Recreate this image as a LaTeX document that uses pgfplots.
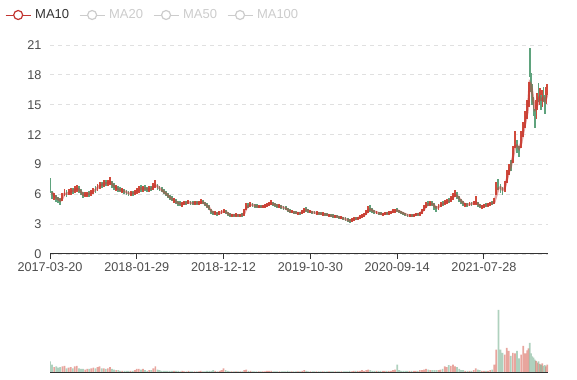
\documentclass[border=0pt]{standalone}
\usepackage{fontspec}
\setmainfont{Liberation Sans}
\usepackage{pgfplots}
\usepackage{pgfplotstable}
\pgfplotsset{compat=1.18}
\definecolor{upc}{HTML}{D14B3C}
\definecolor{downc}{HTML}{5FA37D}
\definecolor{mac}{HTML}{C23531}
\definecolor{inact}{HTML}{CCCCCC}
\definecolor{gridc}{HTML}{E0E0E0}
\definecolor{axc}{HTML}{333333}
\definecolor{lblc}{HTML}{4D4D4D}

\pgfplotstableread[row sep=\\]{
x mid hr dir vol ma\\
0 6.9 0.75 0 17 nan\\
5 5.9 0.4 0 12 6.2\\
10 5.75 0.35 1 8 5.85\\
15 5.6 0.35 0 9 5.65\\
20 5.45 0.3 0 7 5.5\\
25 5.3 0.35 0 8 5.35\\
30 5.7 0.4 1 9 5.6\\
35 6.2 0.35 1 10 6.05\\
40 6.05 0.35 0 6 6.05\\
45 6.2 0.3 1 7 6.15\\
50 6.3 0.35 1 8 6.25\\
55 6.35 0.3 0 6 6.35\\
60 6.45 0.35 1 9 6.45\\
65 6.55 0.35 1 10 6.55\\
70 6.5 0.35 0 6 6.5\\
75 6.2 0.3 0 5 6.25\\
80 5.9 0.3 0 5 5.95\\
85 5.95 0.25 1 4 5.95\\
90 6.0 0.25 1 5 6.0\\
95 6.05 0.3 0 5 6.05\\
100 6.15 0.3 1 6 6.15\\
105 6.35 0.3 1 7 6.3\\
110 6.45 0.35 0 6 6.45\\
115 6.7 0.35 1 8 6.65\\
120 6.9 0.35 1 9 6.85\\
125 6.95 0.3 0 6 6.95\\
130 7.05 0.35 1 6 7.05\\
135 7.1 0.3 0 5 7.1\\
140 7.15 0.3 1 6 7.15\\
145 7.35 0.4 1 8 7.25\\
150 7.0 0.35 0 5 7.05\\
155 6.75 0.35 0 4 6.8\\
160 6.6 0.3 1 3 6.65\\
165 6.5 0.3 0 3 6.5\\
170 6.45 0.25 0 2 6.45\\
175 6.4 0.25 1 2 6.4\\
180 6.3 0.25 0 2 6.3\\
185 6.2 0.25 0 2 6.2\\
190 6.1 0.25 0 2 6.1\\
195 6.05 0.25 1 2 6.05\\
200 6.1 0.25 0 2 6.1\\
205 6.15 0.25 1 3 6.15\\
210 6.3 0.3 1 5 6.3\\
215 6.5 0.35 1 5 6.45\\
220 6.6 0.35 0 4 6.6\\
225 6.55 0.3 1 5 6.55\\
230 6.6 0.3 0 3 6.6\\
235 6.5 0.25 0 2 6.5\\
240 6.5 0.3 1 3 6.5\\
245 6.55 0.25 0 3 6.55\\
250 6.8 0.35 1 6 6.75\\
255 7.0 0.4 1 9 6.9\\
260 6.75 0.3 0 4 6.8\\
265 6.6 0.25 0 3 6.6\\
270 6.45 0.25 0 2 6.45\\
275 6.25 0.25 0 2 6.25\\
280 6.1 0.25 0 2 6.1\\
285 5.9 0.25 0 2 5.9\\
290 5.7 0.25 0 2 5.7\\
295 5.55 0.25 0 2 5.55\\
300 5.4 0.25 1 2 5.4\\
305 5.25 0.25 0 2 5.25\\
310 5.1 0.25 0 2 5.1\\
315 5.05 0.25 0 1 5.05\\
320 5.0 0.25 1 2 5.0\\
325 5.1 0.2 1 1 5.1\\
330 5.15 0.2 0 1 5.15\\
335 5.2 0.2 1 2 5.2\\
340 5.15 0.2 0 1 5.15\\
345 5.1 0.2 0 1 5.1\\
350 5.1 0.2 1 1 5.1\\
355 5.15 0.2 0 1 5.15\\
360 5.1 0.2 1 1 5.1\\
365 5.25 0.25 1 2 5.2\\
370 5.2 0.2 0 1 5.2\\
375 5.05 0.2 0 1 5.05\\
380 4.85 0.25 0 2 4.85\\
385 4.65 0.25 0 2 4.65\\
390 4.3 0.25 0 2 4.35\\
395 4.1 0.2 0 3 4.15\\
400 4.1 0.2 1 2 4.1\\
405 4.05 0.2 0 1 4.05\\
410 4.1 0.2 1 2 4.1\\
415 4.2 0.2 1 3 4.2\\
420 4.3 0.2 1 6 4.28\\
425 4.25 0.2 0 3 4.25\\
430 4.05 0.2 0 2 4.08\\
435 3.95 0.2 0 1 3.95\\
440 3.9 0.16 1 1 3.9\\
445 3.9 0.16 0 1 3.9\\
450 3.92 0.16 1 1 3.92\\
455 3.88 0.16 0 1 3.88\\
460 3.9 0.16 1 1 3.9\\
465 3.92 0.16 0 1 3.92\\
470 4.2 0.35 1 3 4.1\\
475 4.8 0.35 1 4 4.6\\
480 4.85 0.25 0 2 4.8\\
485 5.0 0.25 1 2 4.95\\
490 4.95 0.2 0 1 4.95\\
495 4.85 0.2 0 1 4.85\\
500 4.8 0.2 0 1 4.8\\
505 4.75 0.16 1 1 4.75\\
510 4.75 0.16 0 1 4.75\\
515 4.78 0.16 1 1 4.78\\
520 4.8 0.2 1 1 4.8\\
525 4.9 0.2 1 2 4.9\\
530 5.05 0.2 1 2 5.0\\
535 5.15 0.25 1 2 5.1\\
540 5.0 0.2 0 1 5.02\\
545 4.95 0.2 0 1 4.95\\
550 4.85 0.2 0 1 4.85\\
555 4.8 0.2 1 1 4.8\\
560 4.75 0.2 0 1 4.75\\
565 4.65 0.2 0 1 4.65\\
570 4.6 0.2 0 1 4.6\\
575 4.45 0.2 0 2 4.45\\
580 4.3 0.2 0 1 4.3\\
585 4.25 0.16 1 1 4.25\\
590 4.2 0.16 0 1 4.2\\
595 4.15 0.16 0 1 4.15\\
600 4.1 0.16 1 1 4.1\\
605 4.1 0.16 0 1 4.1\\
610 4.2 0.2 1 2 4.18\\
615 4.4 0.25 1 3 4.35\\
620 4.5 0.25 0 2 4.45\\
625 4.3 0.2 0 1 4.32\\
630 4.25 0.16 1 1 4.25\\
635 4.2 0.16 0 1 4.2\\
640 4.15 0.16 0 1 4.15\\
645 4.12 0.16 1 1 4.12\\
650 4.1 0.16 0 1 4.1\\
655 4.05 0.16 0 1 4.05\\
660 4.02 0.16 1 1 4.02\\
665 4.0 0.16 0 1 4.0\\
670 3.95 0.16 0 1 3.95\\
675 3.9 0.16 1 1 3.9\\
680 3.85 0.16 0 1 3.85\\
685 3.82 0.16 0 1 3.82\\
690 3.8 0.16 1 1 3.8\\
695 3.75 0.16 0 1 3.75\\
700 3.7 0.16 0 1 3.7\\
705 3.65 0.16 1 1 3.65\\
710 3.58 0.16 0 1 3.58\\
715 3.5 0.2 0 1 3.5\\
720 3.4 0.2 0 1 3.42\\
725 3.3 0.2 0 2 3.35\\
730 3.45 0.2 1 1 3.4\\
735 3.5 0.2 1 2 3.48\\
740 3.55 0.16 0 2 3.55\\
745 3.6 0.16 1 2 3.6\\
750 3.7 0.2 1 2 3.68\\
755 3.85 0.2 1 3 3.8\\
760 3.95 0.2 1 2 3.92\\
765 4.2 0.25 1 3 4.1\\
770 4.5 0.35 1 4 4.4\\
775 4.6 0.35 0 3 4.5\\
780 4.35 0.25 0 2 4.38\\
785 4.25 0.2 0 2 4.25\\
790 4.2 0.16 1 2 4.2\\
795 4.1 0.16 0 2 4.1\\
800 4.05 0.16 0 2 4.05\\
805 4.0 0.16 1 2 4.0\\
810 4.05 0.16 1 2 4.05\\
815 4.1 0.16 0 2 4.1\\
820 4.12 0.16 1 2 4.12\\
825 4.2 0.16 1 2 4.2\\
830 4.3 0.2 1 3 4.28\\
835 4.35 0.2 1 4 4.35\\
840 4.4 0.22 0 12 4.38\\
845 4.3 0.16 0 3 4.3\\
850 4.15 0.16 0 2 4.18\\
855 4.1 0.16 0 2 4.1\\
860 4.0 0.16 0 2 4.0\\
865 3.9 0.16 0 2 3.92\\
870 3.85 0.16 1 2 3.85\\
875 3.85 0.16 0 2 3.85\\
880 3.9 0.16 1 2 3.9\\
885 3.95 0.16 1 2 3.95\\
890 4.0 0.16 0 2 4.0\\
895 4.05 0.2 1 3 4.05\\
900 4.3 0.25 1 3 4.25\\
905 4.6 0.3 1 4 4.5\\
910 4.9 0.3 1 5 4.8\\
915 5.05 0.25 0 4 5.0\\
920 5.1 0.25 1 3 5.08\\
925 5.1 0.25 0 3 5.05\\
930 4.8 0.35 0 3 4.85\\
935 4.5 0.3 0 3 4.65\\
940 4.7 0.3 1 3 4.72\\
945 4.95 0.25 1 4 4.9\\
950 5.05 0.25 0 5 5.02\\
955 5.15 0.25 1 9 5.12\\
960 5.25 0.25 1 8 5.22\\
965 5.35 0.25 0 11 5.32\\
970 5.5 0.3 1 10 5.48\\
975 5.75 0.35 1 12 5.7\\
980 6.1 0.35 1 9 5.95\\
985 5.9 0.35 0 8 5.85\\
990 5.55 0.3 0 5 5.6\\
995 5.3 0.25 0 3 5.35\\
1000 5.1 0.25 0 3 5.12\\
1005 4.95 0.2 1 2 4.98\\
1010 4.95 0.2 0 2 4.95\\
1015 5.0 0.2 1 2 5.0\\
1020 5.05 0.2 0 2 5.05\\
1025 5.1 0.2 1 3 5.1\\
1030 5.35 0.45 1 6 5.2\\
1035 5.0 0.25 0 4 5.05\\
1040 4.8 0.2 0 3 4.85\\
1045 4.75 0.2 1 2 4.78\\
1050 4.85 0.2 1 2 4.82\\
1055 4.9 0.2 0 2 4.9\\
1060 4.95 0.2 1 2 4.95\\
1065 5.05 0.2 1 3 5.02\\
1070 5.1 0.2 0 4 5.1\\
1075 5.3 0.3 1 12 5.2\\
1080 6.6 0.65 1 36 5.9\\
1085 7.0 0.55 0 100 6.6\\
1090 6.6 0.45 0 36 6.7\\
1095 6.3 0.4 0 31 6.45\\
1100 6.8 0.55 1 28 6.6\\
1105 7.8 0.65 1 39 7.4\\
1110 8.5 0.55 1 34 8.2\\
1115 8.9 0.55 0 26 8.8\\
1120 10.0 0.85 1 31 9.7\\
1125 11.5 0.85 1 30 10.8\\
1130 10.8 0.65 0 34 10.9\\
1135 10.3 0.55 0 22 10.6\\
1140 11.5 0.85 1 28 11.1\\
1145 12.5 0.75 1 42 12.2\\
1150 13.5 0.85 1 30 13.2\\
1155 14.5 0.95 1 35 14.2\\
1158 16.0 1.25 1 38 15.5\\
1161 19.2 1.45 0 47 17.2\\
1164 17.2 0.95 0 30 17.0\\
1167 16.0 1.05 0 25 16.2\\
1170 14.8 0.95 0 23 15.3\\
1173 13.6 0.95 0 20 14.5\\
1176 14.5 0.95 1 18 14.6\\
1179 15.3 0.85 1 15 15.0\\
1182 16.2 0.95 0 17 15.6\\
1185 15.8 0.85 1 13 15.8\\
1188 15.2 0.75 0 12 15.5\\
1191 15.6 0.85 1 14 15.5\\
1194 16.0 0.75 0 10 15.7\\
1197 15.0 0.95 0 11 15.4\\
1200 15.9 0.85 1 9 15.6\\
1203 16.5 0.55 1 12 16.0\\
}\kdata

\begin{document}
\begin{tikzpicture}
\useasboundingbox (0,0) rectangle (577bp,380bp);
\begin{axis}[
  at={(50bp,126bp)}, anchor=south west,
  scale only axis, width=498bp, height=209bp,
  xmin=0, xmax=1205, ymin=0, ymax=21,
  axis x line*=bottom, axis y line*=left,
  y axis line style={draw=none},
  x axis line style={draw=axc, line width=1bp, -},
  xtick={0,210,420,630,840,1050},
  xticklabels={2017-03-20,2018-01-29,2018-12-12,2019-10-30,2020-09-14,2021-07-28},
  ytick={0,3,6,9,12,15,18,21},
  tick align=outside, major tick length=5bp,
  xtick style={draw=axc, line width=1bp},
  ytick style={draw=none},
  ymajorgrids, grid style={draw=gridc, line width=0.8bp, dash pattern=on 4bp off 4bp},
  /pgf/number format/assume math mode=true,
  tick label style={font=\fontsize{12.7bp}{15bp}\selectfont, text=lblc},
  legend columns=-1,
  legend image code/.code={\draw[#1, line width=1bp] (0bp,0bp) -- (25bp,0bp); \draw[#1, fill=white, line width=1.2bp] (12.5bp,0bp) circle (4.5bp);},
  legend style={at={(axis description cs:-0.0904,1.1435)}, anchor=west, draw=none, fill=none, inner sep=0pt,
    font=\fontsize{13bp}{15bp}\selectfont,
    /tikz/every odd column/.append style={column sep=2bp},
    /tikz/every even column/.append style={column sep=8bp}},
]
\addplot[forget plot, draw=none, mark=none, restrict expr to domain={\thisrow{dir}}{0.5:1.5},
  error bars/.cd, y dir=both, y explicit, error mark=none, error bar style={draw=upc, solid, line width=1.9bp}]
  table[x=x, y=mid, y error=hr]{\kdata};
\addplot[forget plot, draw=none, mark=none, restrict expr to domain={\thisrow{dir}}{-0.5:0.5},
  error bars/.cd, y dir=both, y explicit, error mark=none, error bar style={draw=downc, solid, line width=1.9bp}]
  table[x=x, y=mid, y error=hr]{\kdata};
\addplot[forget plot, draw=mac, draw opacity=0.45, line width=2.4bp, mark=none] table[x=x, y=ma]{\kdata};
\addlegendimage{mac}
\addlegendentry[text=axc]{MA10}
\addlegendimage{inact}
\addlegendentry[text=inact]{MA20}
\addlegendimage{inact}
\addlegendentry[text=inact]{MA50}
\addlegendimage{inact}
\addlegendentry[text=inact]{MA100}
\end{axis}
\begin{axis}[
  at={(50bp,8bp)}, anchor=south west,
  scale only axis, width=498bp, height=62bp,
  xmin=0, xmax=1205, ymin=0, ymax=100,
  axis x line*=bottom, axis y line=none,
  x axis line style={draw=axc, line width=1bp, -},
  xtick=\empty, ytick=\empty,
  ybar, bar width=1.7bp,
]
\addplot[draw=none, fill=upc, fill opacity=0.5, bar shift=0pt, restrict expr to domain={\thisrow{dir}}{0.5:1.5}]
  table[x=x, y=vol]{\kdata};
\addplot[draw=none, fill=downc, fill opacity=0.5, bar shift=0pt, restrict expr to domain={\thisrow{dir}}{-0.5:0.5}]
  table[x=x, y=vol]{\kdata};
\end{axis}
\end{tikzpicture}
\end{document}
